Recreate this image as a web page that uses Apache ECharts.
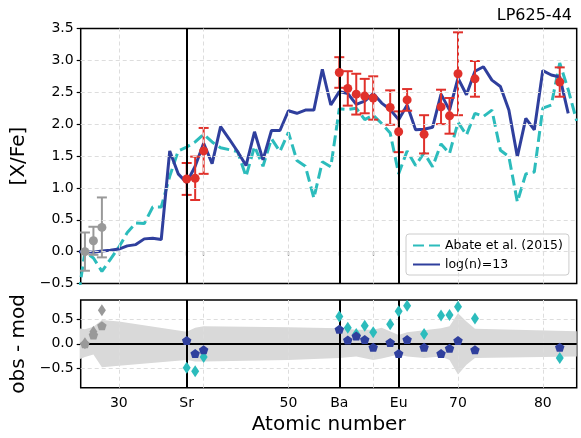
<!DOCTYPE html>
<html>
<head>
<meta charset="utf-8">
<script src="https://cdn.jsdelivr.net/npm/echarts@6/dist/echarts.min.js"></script>
<style>
  html, body { margin: 0; padding: 0; background: #fff; }
  #chart { width: 581px; height: 438px; }
</style>
</head>
<body>
<div id="chart"></div>
<script>
// Atomic numbers of the model abundance patterns
const modelZ = [25,26,27,28,29,30,31,32,33,34,35,36,37,38,39,40,41,42,43,44,
                45,46,47,48,49,50,51,52,53,54,55,56,57,58,59,60,61,62,63,64,
                65,66,67,68,69,70,71,72,73,74,75,76,77,78,79,80,81,82,83,84];
// Abate et al. (2015) i-process pattern, [X/Fe]
const abate2015 = [-0.90,0.00,-0.10,-0.31,-0.12,0.07,0.30,0.45,0.44,0.70,
                   0.70,1.18,1.58,1.64,1.72,1.84,1.72,1.63,1.60,1.57,
                   1.18,1.65,1.34,1.77,1.57,1.87,1.43,1.34,0.84,1.41,
                   1.33,2.24,2.23,2.25,2.07,2.14,2.01,1.86,1.22,1.58,
                   1.35,1.55,1.33,1.69,1.54,2.03,1.83,2.17,2.12,2.22,
                   1.59,1.49,0.78,1.22,1.25,2.25,2.30,2.96,2.54,2.05];
// log(n)=13 model pattern, [X/Fe]
const logn13 = [0.00,0.00,-0.01,0.01,0.02,0.04,0.09,0.11,0.20,0.21,
                0.19,1.58,1.22,1.08,1.34,1.70,1.38,1.96,1.77,1.57,
                1.35,1.88,1.44,1.90,1.90,2.21,2.17,2.22,2.22,2.86,
                2.30,2.51,2.48,2.31,2.36,2.48,2.33,2.23,2.07,2.30,
                1.91,1.92,1.95,2.47,2.22,2.72,2.46,2.83,2.90,2.69,
                2.59,2.22,1.49,2.09,1.91,2.84,2.77,2.74,2.17,null];

// Observed heavy elements
const obsZ   = [38,39,40,56,57,58,59,60,62,63,64,66,68,69,70,72,82];
const obsVal = [1.14,1.15,1.58,2.81,2.56,2.47,2.44,2.41,2.26,1.88,2.38,1.84,2.27,2.13,2.79,2.71,2.66];
const obsErr = [0.25,0.34,0.36,0.24,0.27,0.32,0.27,0.34,0.27,0.32,0.17,0.30,0.27,0.28,0.65,0.28,0.23];
// Iron-peak reference elements
const ironZ   = [26,27,28];
const ironVal = [0.00,0.17,0.38];
const ironErr = [0.30,0.22,0.47];

// Residuals, obs - mod
const resAbate = [-0.49,-0.56,-0.27,0.56,0.33,0.20,0.37,0.24,0.40,0.67,0.78,0.20,0.58,0.59,0.76,0.52,-0.29];
const resLogn  = [0.07,-0.20,-0.12,0.30,0.08,0.16,0.09,-0.07,0.03,-0.20,0.09,-0.07,-0.20,-0.09,0.07,-0.12,-0.07];
const ironResAbate = [0.01,0.25,0.69];
const ironResLogn  = [0.00,0.18,0.37];

// Uncertainty band of the residuals
const bandZ  = [25,26,27,28,30,38,39,40,50,56,58,60,61,63,64,66,68,69,70,71,72,84];
const bandHi = [0.33,0.30,0.35,0.49,0.46,0.25,0.33,0.36,0.34,0.32,0.29,0.29,0.33,0.18,0.24,0.28,0.32,0.36,0.63,0.46,0.31,0.26];
const bandLo = [-0.34,-0.27,-0.22,-0.48,-0.45,-0.33,-0.36,-0.36,-0.33,-0.29,-0.26,-0.33,-0.30,-0.22,-0.26,-0.29,-0.26,-0.33,-0.63,-0.43,-0.29,-0.26];

// Axis ticks and labels
const xTicks = [30,38,40,50,56,60,63,70,80];
const xLabelTicks = [30,38,50,56,63,70,80];
const elementNames = {38: 'Sr', 56: 'Ba', 63: 'Eu'};
const markedZ = [38,56,63];
const xGrid = [30,40,50,60,70,80];
const yGridTop = [0,0.5,1,1.5,2,2.5,3];
const yGridBottom = [-0.5,0.5];
const yTicksBottom = [-0.5,0,0.5];

const FONT = 'DejaVu Sans';
const TEAL = '#2cbcbc';
const BLUE = '#2f3f9d';
const RED = '#e0312b';
const GREY = '#999999';
const BAND = '#d9d9d9';
const GRIDC = '#dddddd';

const pentagon = 'path://M0,-10 L9.51,-3.09 L5.88,8.09 L-5.88,8.09 L-9.51,-3.09 Z';
const minus = s => s.replace('-', '\u2212');

function pairs(xs, ys) { return xs.map((x, i) => [x, ys[i]]); }

function errorBars(xs, ys, es, color) {
  return {
    type: 'custom', xAxisIndex: 0, yAxisIndex: 0, z: 4, silent: true,
    data: xs.map((x, i) => [x, ys[i] - es[i], ys[i] + es[i]]),
    encode: { x: 0, y: [1, 2] },
    renderItem: function (params, api) {
      const lo = api.coord([api.value(0), api.value(1)]);
      const hi = api.coord([api.value(0), api.value(2)]);
      const w = 5;
      const style = { stroke: color, lineWidth: 2, fill: null };
      return { type: 'group', children: [
        { type: 'line', shape: { x1: lo[0], y1: lo[1], x2: hi[0], y2: hi[1] }, style: style },
        { type: 'line', shape: { x1: lo[0] - w, y1: lo[1], x2: lo[0] + w, y2: lo[1] }, style: style },
        { type: 'line', shape: { x1: hi[0] - w, y1: hi[1], x2: hi[0] + w, y2: hi[1] }, style: style }
      ]};
    }
  };
}

function guideLines(xi, yi, yList) {
  return {
    type: 'line', xAxisIndex: xi, yAxisIndex: yi, data: [], z: 0, silent: true,
    markLine: {
      silent: true, symbol: 'none', label: { show: false }, animation: false,
      lineStyle: { color: GRIDC, type: [4, 3], width: 1 },
      data: xGrid.map(z => ({ xAxis: z })).concat(yList.map(y => ({ yAxis: y })))
    }
  };
}

function elementLines(xi, yi) {
  return {
    type: 'line', xAxisIndex: xi, yAxisIndex: yi, data: [], z: 2, silent: true,
    markLine: {
      silent: true, symbol: 'none', label: { show: false }, animation: false,
      lineStyle: { color: '#000', type: 'solid', width: 2 },
      data: markedZ.map(z => ({ xAxis: z })).concat(xi === 1 ? [{ yAxis: 0 }] : [])
    }
  };
}

const tickStyle = { show: true, inside: false, length: 4, lineStyle: { color: '#000', width: 1.2 } };
const labelFont = { color: '#000', fontFamily: FONT, fontSize: 14 };
const nameFont = { color: '#000', fontFamily: FONT, fontSize: 20 };

const chart = echarts.init(document.getElementById('chart'), null, { renderer: 'canvas' });

chart.setOption({
  animation: false,
  backgroundColor: '#fff',
  title: {
    text: 'LP625-44', right: 4, top: 3,
    textStyle: { color: '#000', fontFamily: FONT, fontSize: 16, fontWeight: 'normal' }
  },
  legend: {
    orient: 'vertical', left: 406, top: 234,
    data: ['Abate et al. (2015)', 'log(n)=13'],
    itemWidth: 27, itemHeight: 10, itemGap: 6,
    padding: [5, 6, 4, 6],
    itemStyle: { opacity: 0 },
    backgroundColor: 'rgba(255,255,255,0.85)',
    borderColor: '#cccccc', borderWidth: 1, borderRadius: 3,
    textStyle: { color: '#000', fontFamily: FONT, fontSize: 12.5 }
  },
  grid: [
    { left: 80.7, top: 28.5, width: 496, height: 255, show: true, borderColor: '#000', borderWidth: 1.5, backgroundColor: 'transparent' },
    { left: 80.7, top: 300, width: 496, height: 87.7, show: true, borderColor: '#000', borderWidth: 1.5, backgroundColor: 'transparent' }
  ],
  xAxis: [
    {
      type: 'value', gridIndex: 0, min: 25.5, max: 84,
      axisLine: { show: false }, splitLine: { show: false },
      axisTick: Object.assign({ customValues: xTicks }, tickStyle),
      axisLabel: { show: false }
    },
    {
      type: 'value', gridIndex: 1, min: 25.5, max: 84,
      axisLine: { show: false }, splitLine: { show: false },
      axisTick: Object.assign({ customValues: xTicks }, tickStyle),
      axisLabel: Object.assign({
        customValues: xLabelTicks, margin: 9,
        formatter: v => elementNames[v] || String(v)
      }, labelFont),
      name: 'Atomic number', nameLocation: 'middle', nameGap: 27, nameTextStyle: nameFont
    }
  ],
  yAxis: [
    {
      type: 'value', gridIndex: 0, min: -0.5, max: 3.5, interval: 0.5,
      axisLine: { show: false }, splitLine: { show: false },
      axisTick: tickStyle,
      axisLabel: Object.assign({ margin: 7, formatter: v => minus(v.toFixed(1)) }, labelFont),
      name: '[X/Fe]', nameLocation: 'middle', nameGap: 41, nameTextStyle: nameFont
    },
    {
      type: 'value', gridIndex: 1, min: -0.9, max: 0.9,
      axisLine: { show: false }, splitLine: { show: false },
      axisTick: Object.assign({ customValues: yTicksBottom }, tickStyle),
      axisLabel: Object.assign({ customValues: yTicksBottom, margin: 7, formatter: v => minus(v.toFixed(1)) }, labelFont),
      name: 'obs - mod', nameLocation: 'middle', nameGap: 41, nameTextStyle: nameFont
    }
  ],
  series: [
    guideLines(0, 0, yGridTop),
    guideLines(1, 1, yGridBottom),
    elementLines(0, 0),
    {
      name: 'Abate et al. (2015)', type: 'line', xAxisIndex: 0, yAxisIndex: 0, z: 3,
      data: pairs(modelZ, abate2015), symbol: 'none', clip: true,
      lineStyle: { color: TEAL, width: 3, type: [11, 5] }, itemStyle: { color: TEAL }
    },
    {
      name: 'log(n)=13', type: 'line', xAxisIndex: 0, yAxisIndex: 0, z: 3,
      data: pairs(modelZ, logn13), symbol: 'none', clip: true, connectNulls: false,
      lineStyle: { color: BLUE, width: 3 }, itemStyle: { color: BLUE }
    },
    errorBars(ironZ, ironVal, ironErr, GREY),
    errorBars(obsZ, obsVal, obsErr, RED),
    {
      type: 'scatter', xAxisIndex: 0, yAxisIndex: 0, z: 5, silent: true,
      data: pairs(ironZ, ironVal), symbol: 'circle', symbolSize: 9,
      itemStyle: { color: GREY, opacity: 1 }
    },
    {
      type: 'scatter', xAxisIndex: 0, yAxisIndex: 0, z: 5, silent: true,
      data: pairs(obsZ, obsVal), symbol: 'circle', symbolSize: 9,
      itemStyle: { color: RED, opacity: 1 }
    },
    // residual band
    {
      type: 'line', xAxisIndex: 1, yAxisIndex: 1, z: 1, silent: true,
      data: pairs(bandZ, bandHi), symbol: 'none', clip: true,
      lineStyle: { width: 0 }, areaStyle: { color: BAND, opacity: 1, origin: 0 }
    },
    {
      type: 'line', xAxisIndex: 1, yAxisIndex: 1, z: 1, silent: true,
      data: pairs(bandZ, bandLo), symbol: 'none', clip: true,
      lineStyle: { width: 0 }, areaStyle: { color: BAND, opacity: 1, origin: 0 }
    },
    elementLines(1, 1),
    {
      type: 'scatter', xAxisIndex: 1, yAxisIndex: 1, z: 5, silent: true,
      data: pairs(obsZ, resAbate), symbol: 'diamond', symbolSize: [8, 12],
      itemStyle: { color: TEAL, opacity: 1 }
    },
    {
      type: 'scatter', xAxisIndex: 1, yAxisIndex: 1, z: 6, silent: true,
      data: pairs(obsZ, resLogn), symbol: pentagon, symbolSize: [9.5, 9],
      itemStyle: { color: BLUE, opacity: 1 }
    },
    {
      type: 'scatter', xAxisIndex: 1, yAxisIndex: 1, z: 5, silent: true,
      data: pairs(ironZ, ironResAbate), symbol: 'diamond', symbolSize: [8, 12],
      itemStyle: { color: GREY, opacity: 1 }
    },
    {
      type: 'scatter', xAxisIndex: 1, yAxisIndex: 1, z: 6, silent: true,
      data: pairs(ironZ, ironResLogn), symbol: pentagon, symbolSize: [9.5, 9],
      itemStyle: { color: GREY, opacity: 1 }
    }
  ]
});
</script>
</body>
</html>
